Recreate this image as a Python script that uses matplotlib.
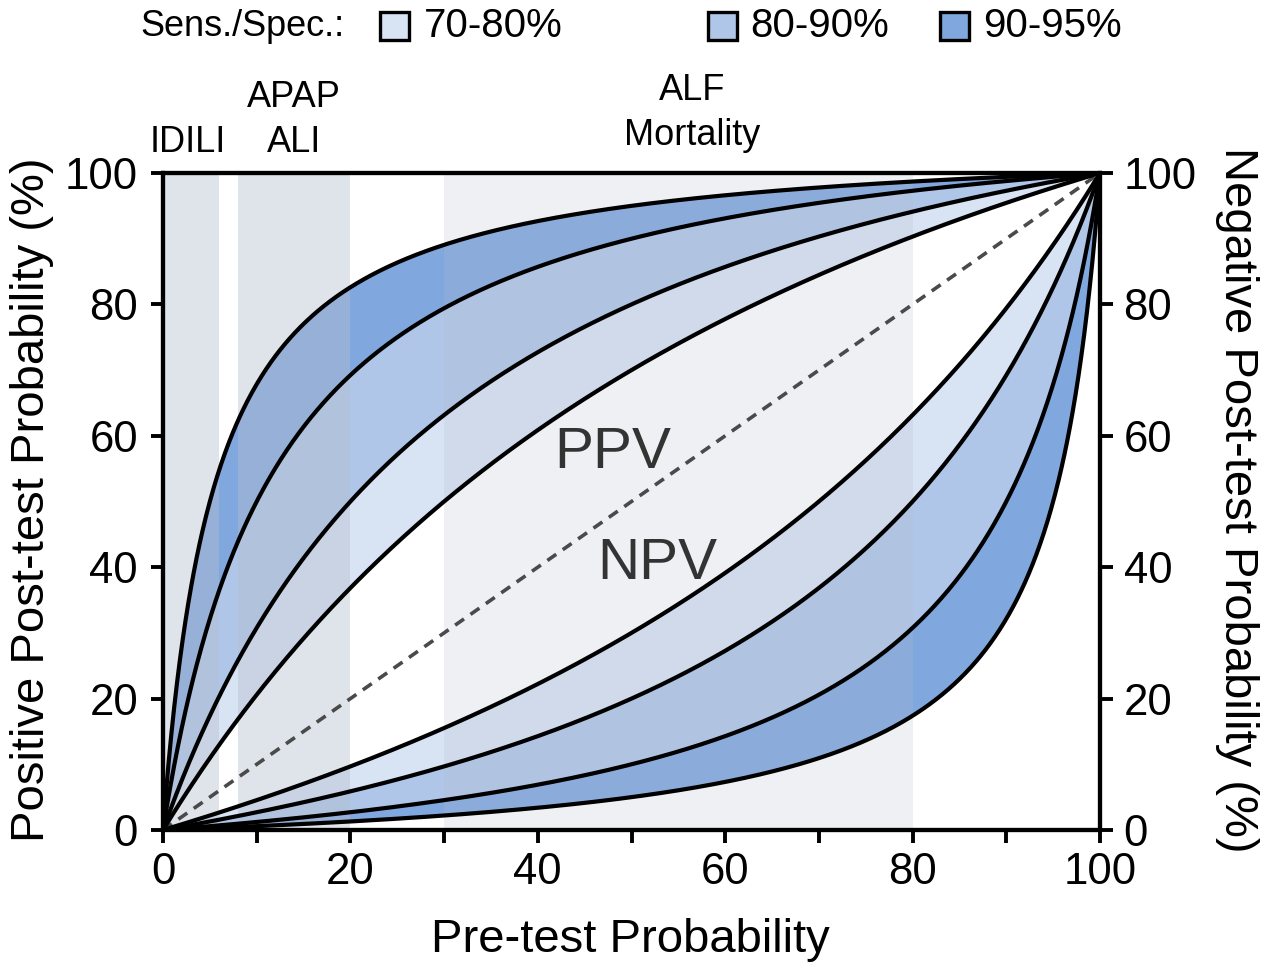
import numpy as np
import matplotlib
matplotlib.use("Agg")
import matplotlib.pyplot as plt
from matplotlib.patches import Rectangle

plt.rcParams['font.family'] = ['Liberation Sans', 'DejaVu Sans']

# ---- data ----
sens_spec = [70, 80, 90, 95]                    # sensitivity = specificity levels (%)
band_labels = ["70-80%", "80-90%", "90-95%"]
band_colors = ["#d8e3f4", "#afc6e8", "#80a8de"]
region_names = ["IDILI", "APAP\nALI", "ALF\nMortality"]
region_start = [0, 8, 30]
region_end = [6, 20, 80]
region_alpha = [0.42, 0.42, 0.22]
region_label_x = [2.6, 14.0, 56.5]
region_label_y = [104.6, 108.1, 109.1]
xticks = [0, 10, 20, 30, 40, 50, 60, 70, 80, 90, 100]
xticklabels = ["0", "", "20", "", "40", "", "60", "", "80", "", "100"]
yticks = [0, 20, 40, 60, 80, 100]

pretest = np.linspace(0, 100, 1001)


def ppv(p, s):
    p = p / 100.0
    s = s / 100.0
    return 100 * s * p / (s * p + (1 - s) * (1 - p))


def neg_post(p, s):
    p = p / 100.0
    s = s / 100.0
    return 100 * (1 - s) * p / ((1 - s) * p + s * (1 - p))


fig = plt.figure(figsize=(12.75, 9.69), dpi=100)
ax = fig.add_axes([163 / 1275, 1 - 830 / 969, 937 / 1275, 657 / 969])

pos_curves = [ppv(pretest, s) for s in sens_spec]
neg_curves = [neg_post(pretest, s) for s in sens_spec]

for i in range(3):
    ax.fill_between(pretest, pos_curves[i], pos_curves[i + 1], color=band_colors[i], lw=0, zorder=1)
    ax.fill_between(pretest, neg_curves[i + 1], neg_curves[i], color=band_colors[i], lw=0, zorder=1)

for a0, a1, al in zip(region_start, region_end, region_alpha):
    ax.axvspan(a0, a1, color="#b5bdcf", alpha=al, lw=0, zorder=2)

for c in pos_curves + neg_curves:
    ax.plot(pretest, c, color="black", lw=3.0, zorder=4, solid_capstyle="round")

ax.plot([0, 100], [0, 100], color="#4a4a4a", lw=2.6, ls=(0, (3, 2.2)), zorder=3)

ax.text(48.0, 57.4, "PPV", fontsize=42, color="#333333", ha="center", va="center", zorder=5)
ax.text(52.7, 40.5, "NPV", fontsize=42, color="#333333", ha="center", va="center", zorder=5)

for name, lx, ly in zip(region_names, region_label_x, region_label_y):
    ax.text(lx, ly, name, fontsize=26, ha="center", va="center", linespacing=1.38, clip_on=False)

ax.set_xlim(0, 100)
ax.set_ylim(0, 100)
ax.set_xticks(xticks)
ax.set_xticklabels(xticklabels)
ax.set_yticks(yticks)
for sp in ax.spines.values():
    sp.set_linewidth(3.0)
ax.tick_params(axis="x", length=9, width=2.8, labelsize=31.5, pad=7, direction="out")
ax.tick_params(axis="y", length=9, width=2.8, labelsize=31.5, pad=9, direction="out")

ax2 = ax.twinx()
ax2.set_ylim(0, 100)
ax2.set_yticks(yticks)
ax2.tick_params(axis="y", length=9, width=2.8, labelsize=31.5, pad=8, direction="out")
for sp in ax2.spines.values():
    sp.set_linewidth(3.0)

fig.text(32 / 1275, 1 - 500 / 969, "Positive Post-test Probability (%)", rotation=90,
         fontsize=34, ha="center", va="center")
fig.text(1237 / 1275, 1 - 500 / 969, "Negative Post-test Probability (%)", rotation=-90,
         fontsize=34, ha="center", va="center")
fig.text(630 / 1275, 1 - 940 / 969, "Pre-test Probability", fontsize=34, ha="center", va="center")

# legend
fig.text(140 / 1275, 1 - 26 / 969, "Sens./Spec.:", fontsize=26, ha="left", va="center")
sq_x = [380, 708, 940]
txt_x = [424, 750, 983]
for lab, col, sx, tx in zip(band_labels, band_colors, sq_x, txt_x):
    fig.patches.append(Rectangle((sx / 1275, 1 - 40 / 969), 29 / 1275, 28 / 969,
                                 transform=fig.transFigure, facecolor=col,
                                 edgecolor="black", lw=2.4))
    fig.text(tx / 1275, 1 - 26 / 969, lab, fontsize=29, ha="left", va="center")

fig.savefig("out.png", dpi=100)
